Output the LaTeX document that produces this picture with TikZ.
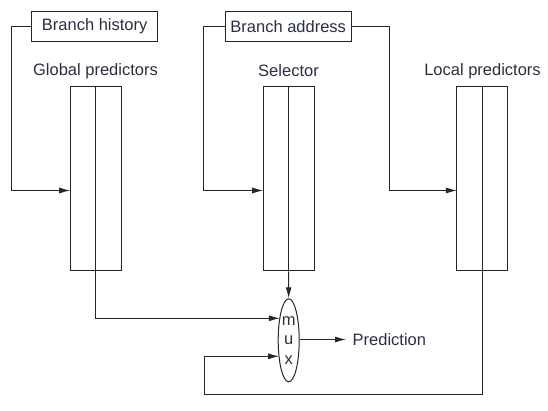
\documentclass[tikz,border=0pt]{standalone}
\usepackage{fontspec}
\setmainfont{Liberation Sans}
\usetikzlibrary{shapes.geometric,arrows.meta,calc}
\definecolor{txt}{rgb}{0.16,0.18,0.28}
\definecolor{ln}{rgb}{0.15,0.15,0.15}
\begin{document}
\begin{tikzpicture}[x=1pt,y=-1pt,
  lbl/.style={font=\fontsize{16.5}{19.5}\selectfont, text=txt, inner sep=0pt},
  inbox/.style={draw=ln, line width=1pt, minimum width=126pt, minimum height=29.6pt, inner sep=0pt, font=\fontsize{16.5}{19.5}\selectfont, text=txt},
  predtable/.style={draw=ln, line width=1pt, minimum width=51pt, minimum height=184pt, inner sep=0pt},
  conn/.style={draw=ln, line width=1pt},
  arr/.style={conn, -{Latex[length=11pt,width=6pt]}}]
\useasboundingbox (0,0) rectangle (548,411);
\node[inbox] (bh) at (94.7,26.5) {Branch history};
\node[inbox] (ba) at (288.2,26.5) {Branch address};
\node[lbl] (gl) at (95.5,71) {Global predictors};
\node[lbl] (sl) at (288.5,71) {Selector};
\node[lbl] (ll) at (482.5,71) {Local predictors};
\node[predtable] (g) at (95.5,178.8) {};
\node[predtable] (s) at (288.5,178.8) {};
\node[predtable] (l) at (482.2,178.8) {};
\draw[conn] (g.north) -- (g.south);
\draw[conn] (s.north) -- (s.south);
\draw[conn] (l.north) -- (l.south);
\node[draw=ln, line width=1pt, ellipse, minimum width=21pt, minimum height=83pt, inner sep=0pt,
      font=\fontsize{16.5}{19.5}\selectfont, text=txt, align=center] (mux) at (288.7,340.3) {m\\u\\x};
\node[lbl, anchor=west] (pred) at (352.5,339.5) {Prediction};
\coordinate (gin) at (70.2,190.5);
\coordinate (sin) at (263.2,190.5);
\coordinate (lin) at (456.9,190.5);
\coordinate (m1) at ($(mux.center)+(-8.9,-22)$);
\coordinate (m2) at ($(mux.center)+(-9.6,16)$);
\coordinate (pe) at (346,339.5);
\draw[arr] (bh.west) -- ++(-20,0) |- (gin);
\draw[arr] (ba.west) -- ++(-21,0) |- (sin);
\draw[arr] (ba.east) -- (389,26.5) |- (lin);
\draw[arr] (s.south) -- (mux.north);
\draw[arr] (g.south) |- (m1);
\draw[conn] (l.south) -- (l.south |- 0,394.5) -- (204.3,394.5) -- (204.3,356.3);
\draw[arr] (204.3,356.3) -- (m2);
\draw[arr] (mux.east |- pe) -- (pe);
\end{tikzpicture}
\end{document}
